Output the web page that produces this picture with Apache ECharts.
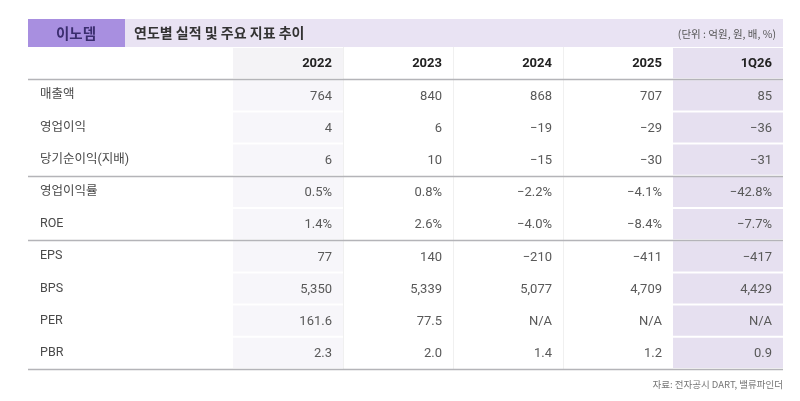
<!DOCTYPE html>
<html>
<head>
<meta charset="utf-8">
<script src="https://cdn.jsdelivr.net/npm/echarts@6/dist/echarts.min.js"></script>
<style>
html,body{margin:0;padding:0;background:#fff;}
#main{width:800px;height:401px;}
</style>
</head>
<body>
<div id="main"></div>
<script>
/*표 데이터*/
var years = ['2022', '2023', '2024', '2025', '1Q26'];
var rowNames = ['매출액', '영업이익', '당기순이익(지배)', '영업이익률', 'ROE', 'EPS', 'BPS', 'PER', 'PBR'];
var sales = [764, 840, 868, 707, 85];
var opIncome = [4, 6, -19, -29, -36];
var netIncome = [6, 10, -15, -30, -31];
var opMargin = [0.5, 0.8, -2.2, -4.1, -42.8];
var roe = [1.4, 2.6, -4.0, -8.4, -7.7];
var eps = [77, 140, -210, -411, -417];
var bps = [5350, 5339, 5077, 4709, 4429];
var per = [161.6, 77.5, null, null, null];
var pbr = [2.3, 2.0, 1.4, 1.2, 0.9];
// 그룹 구분선 (행 경계 뒤)
var groupBreaks = [0, 3, 5, 9];

var FONT = '"Noto Sans CJK KR", "Noto Sans", sans-serif';
var NUM_FONT = 'Roboto, "Noto Sans CJK KR", sans-serif';
var LABEL_W = 205; // 항목 열 폭

function fmt(v, type){
	if(v === null){
		return 'N/A';
	}
	var s;
	if(type == 'pct'){
		s = Math.abs(v).toFixed(1) + '%';
	}else if(type == 'dec'){
		s = Math.abs(v).toFixed(1);
	}else{
		s = Math.abs(v).toString().replace(/\B(?=(\d{3})+(?!\d))/g, ',');
	}
	return (v < 0 ? '\u2212' : '') + s;
}

var rowData = [
	[sales, 'int'], [opIncome, 'int'], [netIncome, 'int'],
	[opMargin, 'pct'], [roe, 'pct'],
	[eps, 'int'], [bps, 'int'], [per, 'dec'], [pbr, 'dec']
];

var cells = [];
years.forEach(function(y, c){
	cells.push([c, 0, y, 1]);
});
rowData.forEach(function(r, i){
	r[0].forEach(function(v, c){
		cells.push([c, i + 1, fmt(v, r[1]), 0]);
	});
});

function renderCell(params, api){
	var c = api.value(0);
	var pt = api.coord([c, api.value(1)]);
	var size = api.size([1, 1]);
	var x0 = pt[0] - size[0] / 2;
	var y0 = pt[1] - size[1] / 2;
	var isHead = api.value(3) == 1;
	var children = [];
	var fill = null;
	if(c == 0){
		fill = isHead ? '#f4f3f6' : '#f7f6fa';
	}else if(c == 4){
		fill = '#e6e0f0';
	}
	if(fill){
		children.push({
			type: 'rect',
			shape: {x: x0, y: y0 + 1, width: size[0], height: size[1] - 2},
			style: {fill: fill}
		});
	}
	children.push({
		type: 'text',
		style: {
			text: cells[params.dataIndex][2],
			x: x0 + size[0] - 11,
			y: pt[1] + 1,
			align: 'right',
			verticalAlign: 'middle',
			fontFamily: NUM_FONT,
			fontSize: 13,
			fontWeight: isHead ? 'bold' : 'normal',
			fill: isHead ? '#222' : '#595959'
		}
	});
	return {type: 'group', children: children};
}

function renderLine(params, api){
	var row = api.value(0);
	var pt = api.coord([0, row]);
	var size = api.size([1, 1]);
	var cs = params.coordSys;
	var y = Math.round(pt[1] + size[1] / 2) + 0.5;
	return {
		type: 'line',
		shape: {x1: cs.x - LABEL_W, y1: y, x2: cs.x + cs.width, y2: y},
		style: {stroke: '#b4b4b8', lineWidth: 1.5}
	};
}

function renderVLine(params, api){
	var c = api.value(0);
	var pt = api.coord([c, 0]);
	var size = api.size([1, 1]);
	var cs = params.coordSys;
	var x = Math.round(pt[0] - size[0] / 2) + 0.5;
	return {
		type: 'line',
		shape: {x1: x, y1: cs.y, x2: x, y2: cs.y + cs.height},
		style: {stroke: '#f0f0f0', lineWidth: 1}
	};
}

var chart = echarts.init(document.getElementById('main'));
var option = {
	backgroundColor: '#ffffff',
	animation: false,
	grid: {left: 233, right: 17, top: 47, bottom: 32},
	xAxis: {
		type: 'category',
		data: years,
		axisLine: {show: false},
		axisTick: {show: false},
		axisLabel: {show: false},
		splitLine: {show: false}
	},
	yAxis: {
		type: 'category',
		data: [''].concat(rowNames),
		inverse: true,
		axisLine: {show: false},
		axisTick: {show: false},
		splitLine: {show: false},
		axisLabel: {
			align: 'left',
			margin: 193,
			color: '#4a4a4a',
			fontFamily: NUM_FONT,
			fontSize: 12.5
		}
	},
	graphic: [
		{type: 'rect', shape: {x: 28, y: 19, width: 755, height: 28}, style: {fill: '#e9e3f3'}},
		{type: 'rect', shape: {x: 28, y: 19, width: 97, height: 28}, style: {fill: '#a88fe0'}},
		{type: 'text', style: {text: '이노뎀', x: 76, y: 33, align: 'center', verticalAlign: 'middle',
			fontFamily: FONT, fontSize: 14.5, fontWeight: 'bold', fill: '#3a2d6e'}},
		{type: 'text', style: {text: '연도별 실적 및 주요 지표 추이', x: 134, y: 33, verticalAlign: 'middle',
			fontFamily: FONT, fontSize: 14, fontWeight: 'bold', fill: '#333'}},
		{type: 'text', style: {text: '(단위 : 억원, 원, 배, %)', x: 776, y: 34, align: 'right', verticalAlign: 'middle',
			fontFamily: FONT, fontSize: 10.5, fill: '#555'}},
		{type: 'text', style: {text: '자료: 전자공시 DART, 밸류파인더', x: 783, y: 384, align: 'right', verticalAlign: 'middle',
			fontFamily: FONT, fontSize: 9.5, fill: '#777'}}
	],
	series: [
		{
			type: 'custom',
			renderItem: renderVLine,
			data: [[1], [2], [3]],
			silent: true
		},
		{
			type: 'custom',
			renderItem: renderCell,
			data: cells,
			silent: true
		},
		{
			type: 'custom',
			renderItem: renderLine,
			data: groupBreaks.map(function(r){ return [r]; }),
			silent: true,
			z: 5
		}
	]
};
chart.setOption(option);
</script>
</body>
</html>
